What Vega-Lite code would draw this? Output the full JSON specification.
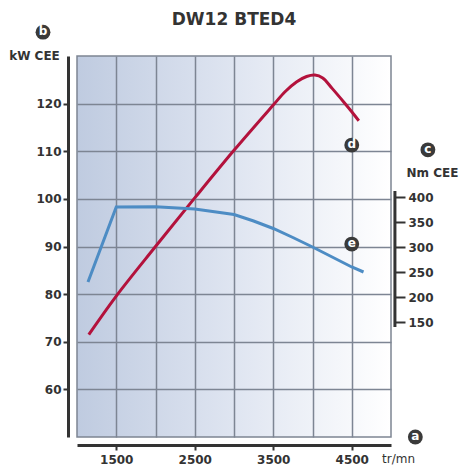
{
  "$schema": "https://vega.github.io/schema/vega-lite/v6.json",
  "width": 314,
  "height": 381,
  "autosize": "none",
  "padding": {"left": 77, "top": 56, "right": 72, "bottom": 32},
  "background": "white",
  "config": {
    "font": "DejaVu Sans",
    "view": {
      "stroke": "#7d8593",
      "strokeWidth": 1.5,
      "fill": {"gradient": "linear", "x1": 0, "y1": 0, "x2": 1, "y2": 0, "stops": [
        {"offset": 0, "color": "#bfcbe0"},
        {"offset": 0.5, "color": "#dfe5f1"},
        {"offset": 1, "color": "#ffffff"}
      ]}
    }
  },
  "title": {"text": "DW12 BTED4", "fontSize": 17, "fontWeight": "bold", "color": "#333333", "anchor": "middle", "baseline": "alphabetic", "offset": -17},
  "datasets": {
    "power": [
      {"rpm": 1150, "kw": 71.5},
      {"rpm": 1500, "kw": 79.6},
      {"rpm": 2000, "kw": 90.0},
      {"rpm": 2500, "kw": 100.2},
      {"rpm": 3000, "kw": 110.2},
      {"rpm": 3500, "kw": 119.7},
      {"rpm": 3650, "kw": 122.5},
      {"rpm": 3800, "kw": 124.6},
      {"rpm": 3925, "kw": 125.7},
      {"rpm": 4030, "kw": 126.0},
      {"rpm": 4130, "kw": 125.4},
      {"rpm": 4250, "kw": 123.2},
      {"rpm": 4400, "kw": 120.3},
      {"rpm": 4500, "kw": 118.3},
      {"rpm": 4590, "kw": 116.4}
    ],
    "torque": [
      {"rpm": 1140, "nm": 230},
      {"rpm": 1500, "nm": 380},
      {"rpm": 2000, "nm": 380.5},
      {"rpm": 2500, "nm": 376},
      {"rpm": 3000, "nm": 365},
      {"rpm": 3250, "nm": 352},
      {"rpm": 3500, "nm": 337},
      {"rpm": 3750, "nm": 319},
      {"rpm": 4000, "nm": 300},
      {"rpm": 4500, "nm": 260},
      {"rpm": 4650, "nm": 250}
    ],
    "badges": [
      {"t": "b", "rpm": 567, "kw": 135.0},
      {"t": "d", "rpm": 4500, "kw": 111.3},
      {"t": "e", "rpm": 4500, "kw": 90.5},
      {"t": "c", "rpm": 5470, "kw": 110.3},
      {"t": "a", "rpm": 5310, "kw": 50.0}
    ]
  },
  "layer": [
    {
      "data": {"name": "power"},
      "mark": {"type": "line", "color": "#b3123c", "strokeWidth": 3, "interpolate": "catmull-rom"},
      "encoding": {
        "x": {
          "field": "rpm", "type": "quantitative",
          "scale": {"domain": [1000, 5000], "nice": false, "zero": false},
          "axis": {
            "orient": "bottom", "offset": 8,
            "values": [1500, 2000, 2500, 3000, 3500, 4000, 4500],
            "format": "d",
            "labelExpr": "datum.value % 1000 == 500 ? datum.label : ''",
            "grid": true, "gridColor": "#7d8593", "gridWidth": 1.5,
            "domain": true, "domainColor": "#333333", "domainWidth": 3,
            "ticks": true, "tickSize": 5, "tickWidth": 2, "tickColor": "#333333",
            "tickOpacity": {"condition": {"test": "datum.value % 1000 == 500", "value": 1}, "value": 0},
            "labelFontSize": 12, "labelFontWeight": "bold", "labelColor": "#333333", "labelPadding": 4,
            "title": "tr/mn", "titleFontSize": 12, "titleFontWeight": "normal", "titleColor": "#333333",
            "titleAngle": 0, "titleAlign": "center", "titleBaseline": "middle", "titleX": 321, "titleY": 13
          }
        },
        "y": {
          "field": "kw", "type": "quantitative",
          "scale": {"domain": [50, 130], "nice": false, "zero": false},
          "axis": {
            "orient": "left", "offset": 9,
            "values": [60, 70, 80, 90, 100, 110, 120],
            "grid": true, "gridColor": "#7d8593", "gridWidth": 1.5,
            "domain": true, "domainColor": "#333333", "domainWidth": 3,
            "ticks": true, "tickSize": 5, "tickWidth": 2, "tickColor": "#333333",
            "labelFontSize": 12, "labelFontWeight": "bold", "labelColor": "#333333", "labelPadding": 2,
            "title": "kW CEE", "titleFontSize": 12, "titleFontWeight": "bold", "titleColor": "#333333",
            "titleAngle": 0, "titleAlign": "center", "titleBaseline": "middle", "titleX": -34, "titleY": -1
          }
        }
      }
    },
    {
      "data": {"name": "torque"},
      "mark": {"type": "line", "color": "#4d8cc4", "strokeWidth": 3},
      "encoding": {
        "x": {"field": "rpm", "type": "quantitative", "scale": {"domain": [1000, 5000], "nice": false, "zero": false}},
        "y": {
          "field": "nm", "type": "quantitative",
          "scale": {"domain": [-80, 682], "nice": false, "zero": false},
          "axis": {
            "orient": "right", "offset": 4,
            "values": [150, 200, 250, 300, 350, 400],
            "grid": false, "domain": false,
            "ticks": true, "tickSize": 10, "tickWidth": 2, "tickColor": "#333333",
            "labelFontSize": 12, "labelFontWeight": "bold", "labelColor": "#333333", "labelPadding": 3,
            "title": "Nm CEE", "titleFontSize": 12, "titleFontWeight": "bold", "titleColor": "#333333",
            "titleAngle": 0, "titleAlign": "center", "titleBaseline": "middle", "titleX": 37, "titleY": 116
          }
        }
      }
    },
    {
      "data": {"values": [{"rpm": 5050, "lo": 140, "hi": 412}]},
      "mark": {"type": "rule", "color": "#333333", "strokeWidth": 3},
      "encoding": {
        "x": {"field": "rpm", "type": "quantitative", "scale": {"domain": [1000, 5000], "nice": false, "zero": false}},
        "y": {"field": "lo", "type": "quantitative", "scale": {"domain": [-80, 682], "nice": false, "zero": false}, "axis": null},
        "y2": {"field": "hi"}
      }
    },
    {
      "data": {"name": "badges"},
      "mark": {"type": "point", "filled": true, "size": 220, "color": "#3a3a3a", "opacity": 1},
      "encoding": {
        "x": {"field": "rpm", "type": "quantitative", "scale": {"domain": [1000, 5000], "nice": false, "zero": false}},
        "y": {"field": "kw", "type": "quantitative", "scale": {"domain": [50, 130], "nice": false, "zero": false}, "axis": null}
      }
    },
    {
      "data": {"name": "badges"},
      "mark": {"type": "text", "color": "white", "fontSize": 12, "fontWeight": "bold", "baseline": "middle", "align": "center", "dy": -1},
      "encoding": {
        "x": {"field": "rpm", "type": "quantitative", "scale": {"domain": [1000, 5000], "nice": false, "zero": false}},
        "y": {"field": "kw", "type": "quantitative", "scale": {"domain": [50, 130], "nice": false, "zero": false}, "axis": null},
        "text": {"field": "t"}
      }
    }
  ],
  "resolve": {"scale": {"y": "independent"}}
}
